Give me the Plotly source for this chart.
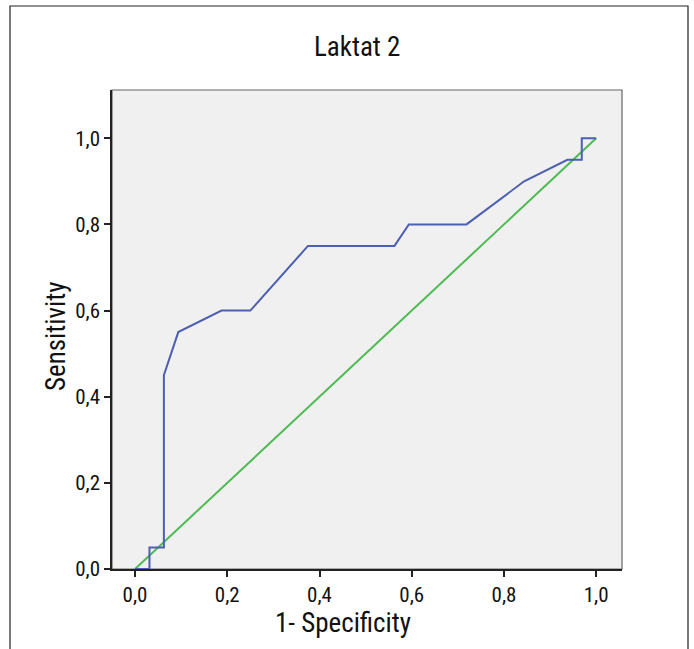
import plotly.graph_objects as go

# ROC curve data (1 - specificity, sensitivity)
roc_fpr = [0.0, 0.03125, 0.03125, 0.0625, 0.0625, 0.09375, 0.1875, 0.25, 0.375,
           0.5625, 0.59375, 0.71875, 0.84375, 0.9375, 0.96875, 0.96875, 1.0]
roc_tpr = [0.0, 0.0, 0.05, 0.05, 0.45, 0.55, 0.60, 0.60, 0.75,
           0.75, 0.80, 0.80, 0.90, 0.95, 0.95, 1.0, 1.0]
ref_x = [0.0, 1.0]
ref_y = [0.0, 1.0]

tick_vals = [0.0, 0.2, 0.4, 0.6, 0.8, 1.0]
tick_text = ["0,0", "0,2", "0,4", "0,6", "0,8", "1,0"]

FONT = "Liberation Sans Narrow, Roboto Condensed, Arial Narrow, DejaVu Sans Condensed, sans-serif"

fig = go.Figure()
fig.add_trace(go.Scatter(x=ref_x, y=ref_y, mode="lines",
                         line=dict(color="#4dbb52", width=2), showlegend=False, hoverinfo="skip"))
fig.add_trace(go.Scatter(x=roc_fpr, y=roc_tpr, mode="lines",
                         line=dict(color="#4d5fb3", width=2), showlegend=False))

W, H = 694, 649
L, R, T, B = 112, 72, 90, 80
pw, ph = W - L - R, H - T - B

def px(x):
    return (x - L) / pw

def py(y):
    return (H - B - y) / ph

fig.update_layout(
    width=W, height=H,
    margin=dict(l=L, r=R, t=T, b=B, pad=0),
    paper_bgcolor="white",
    plot_bgcolor="#f0f0f0",
    font=dict(family=FONT, color="#111111", size=20),
    xaxis=dict(range=[-0.05, 1.056], tickvals=tick_vals, ticktext=tick_text,
               showgrid=False, zeroline=False, showline=True, linecolor="#222222", linewidth=1.5,
               ticks="outside", ticklen=6, tickcolor="#222222", tickwidth=1.5,
               tickfont=dict(family=FONT, size=21, color="#111111")),
    yaxis=dict(range=[0, 1.112], tickvals=tick_vals, ticktext=tick_text,
               showgrid=False, zeroline=False, showline=True, linecolor="#222222", linewidth=1.5,
               ticks="outside", ticklen=6, tickcolor="#222222", tickwidth=1.5,
               tickfont=dict(family=FONT, size=21, color="#111111")),
    annotations=[
        dict(text="Laktat 2", xref="paper", yref="paper", x=px(357), y=py(47),
             xanchor="center", yanchor="middle", showarrow=False,
             font=dict(family=FONT, size=27, color="#111111")),
        dict(text="1- Specificity", xref="paper", yref="paper", x=px(343), y=py(623),
             xanchor="center", yanchor="middle", showarrow=False,
             font=dict(family=FONT, size=27, color="#111111")),
        dict(text="Sensitivity", xref="paper", yref="paper", x=px(56), y=py(337),
             xanchor="center", yanchor="middle", showarrow=False, textangle=-90,
             font=dict(family=FONT, size=27, color="#111111")),
    ],
    shapes=[
        dict(type="rect", xref="paper", yref="paper", x0=0, y0=0, x1=1, y1=1,
             line=dict(color="#666666", width=1.2), layer="below"),
        dict(type="path", xref="paper", yref="paper",
             path=f"M {px(10)} {py(649)} L {px(10)} {py(6)} L {px(688)} {py(6)} L {px(688)} {py(649)}",
             line=dict(color="#222222", width=1.2)),
    ],
)

fig.write_html("out.html", config={"displayModeBar": False},
               post_script="document.body.style.margin='0';document.body.style.overflow='hidden';")
